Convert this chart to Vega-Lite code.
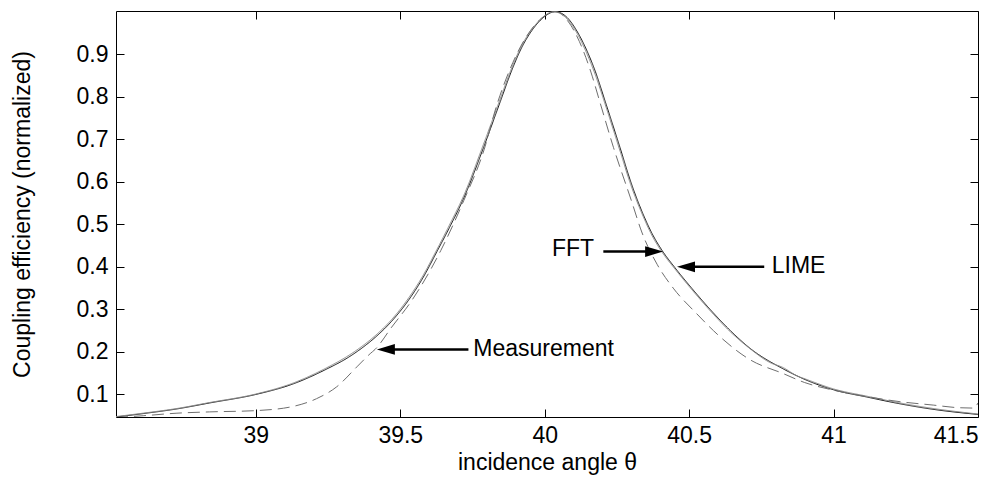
{
  "$schema": "https://vega.github.io/schema/vega-lite/v6.json",
  "width": 862,
  "height": 406,
  "autosize": {"type": "none"},
  "padding": {"left": 116, "top": 11, "right": 25, "bottom": 60},
  "background": "white",
  "config": {
    "view": {"stroke": "#000000", "strokeWidth": 1},
    "font": "Liberation Sans",
    "axis": {
      "domain": false,
      "grid": false,
      "tickSize": -8,
      "tickColor": "#000000",
      "tickWidth": 1,
      "labelFont": "Liberation Sans",
      "labelFontSize": 23,
      "labelColor": "#000000",
      "titleFont": "Liberation Sans",
      "titleFontSize": 23,
      "titleFontWeight": "normal",
      "titleColor": "#000000"
    }
  },
  "datasets": {
    "curves": [
      {"series": "LIME", "x": 38.516, "y": 0.047},
      {"series": "LIME", "x": 38.61, "y": 0.055},
      {"series": "LIME", "x": 38.727, "y": 0.066},
      {"series": "LIME", "x": 38.84, "y": 0.08},
      {"series": "LIME", "x": 39.0, "y": 0.1},
      {"series": "LIME", "x": 39.13, "y": 0.125},
      {"series": "LIME", "x": 39.246, "y": 0.16},
      {"series": "LIME", "x": 39.315, "y": 0.185},
      {"series": "LIME", "x": 39.373, "y": 0.212},
      {"series": "LIME", "x": 39.413, "y": 0.234},
      {"series": "LIME", "x": 39.47, "y": 0.272},
      {"series": "LIME", "x": 39.528, "y": 0.321},
      {"series": "LIME", "x": 39.58, "y": 0.376},
      {"series": "LIME", "x": 39.627, "y": 0.436},
      {"series": "LIME", "x": 39.67, "y": 0.492},
      {"series": "LIME", "x": 39.72, "y": 0.562},
      {"series": "LIME", "x": 39.788, "y": 0.68},
      {"series": "LIME", "x": 39.846, "y": 0.788},
      {"series": "LIME", "x": 39.886, "y": 0.862},
      {"series": "LIME", "x": 39.92, "y": 0.915},
      {"series": "LIME", "x": 39.955, "y": 0.955},
      {"series": "LIME", "x": 39.995, "y": 0.986},
      {"series": "LIME", "x": 40.036, "y": 1.0},
      {"series": "LIME", "x": 40.075, "y": 0.988},
      {"series": "LIME", "x": 40.117, "y": 0.948},
      {"series": "LIME", "x": 40.145, "y": 0.91},
      {"series": "LIME", "x": 40.175, "y": 0.86},
      {"series": "LIME", "x": 40.209, "y": 0.79},
      {"series": "LIME", "x": 40.261, "y": 0.68},
      {"series": "LIME", "x": 40.298, "y": 0.6},
      {"series": "LIME", "x": 40.34, "y": 0.525},
      {"series": "LIME", "x": 40.372, "y": 0.478},
      {"series": "LIME", "x": 40.405, "y": 0.44},
      {"series": "LIME", "x": 40.451, "y": 0.398},
      {"series": "LIME", "x": 40.51, "y": 0.349},
      {"series": "LIME", "x": 40.578, "y": 0.296},
      {"series": "LIME", "x": 40.64, "y": 0.252},
      {"series": "LIME", "x": 40.71, "y": 0.209},
      {"series": "LIME", "x": 40.826, "y": 0.16},
      {"series": "LIME", "x": 40.912, "y": 0.132},
      {"series": "LIME", "x": 41.0, "y": 0.111},
      {"series": "LIME", "x": 41.115, "y": 0.094},
      {"series": "LIME", "x": 41.23, "y": 0.078},
      {"series": "LIME", "x": 41.345, "y": 0.065},
      {"series": "LIME", "x": 41.5, "y": 0.053},
      {"series": "FFT", "x": 38.516, "y": 0.048},
      {"series": "FFT", "x": 38.61, "y": 0.056},
      {"series": "FFT", "x": 38.727, "y": 0.067},
      {"series": "FFT", "x": 38.84, "y": 0.081},
      {"series": "FFT", "x": 39.0, "y": 0.101},
      {"series": "FFT", "x": 39.13, "y": 0.127},
      {"series": "FFT", "x": 39.246, "y": 0.163},
      {"series": "FFT", "x": 39.315, "y": 0.189},
      {"series": "FFT", "x": 39.373, "y": 0.216},
      {"series": "FFT", "x": 39.413, "y": 0.238},
      {"series": "FFT", "x": 39.47, "y": 0.276},
      {"series": "FFT", "x": 39.528, "y": 0.326},
      {"series": "FFT", "x": 39.58, "y": 0.381},
      {"series": "FFT", "x": 39.627, "y": 0.441},
      {"series": "FFT", "x": 39.67, "y": 0.498},
      {"series": "FFT", "x": 39.72, "y": 0.568},
      {"series": "FFT", "x": 39.788, "y": 0.688},
      {"series": "FFT", "x": 39.846, "y": 0.795},
      {"series": "FFT", "x": 39.886, "y": 0.868},
      {"series": "FFT", "x": 39.92, "y": 0.92},
      {"series": "FFT", "x": 39.955, "y": 0.958},
      {"series": "FFT", "x": 39.995, "y": 0.988},
      {"series": "FFT", "x": 40.03, "y": 1.0},
      {"series": "FFT", "x": 40.07, "y": 0.988},
      {"series": "FFT", "x": 40.117, "y": 0.943},
      {"series": "FFT", "x": 40.145, "y": 0.903},
      {"series": "FFT", "x": 40.175, "y": 0.852},
      {"series": "FFT", "x": 40.209, "y": 0.783},
      {"series": "FFT", "x": 40.261, "y": 0.672},
      {"series": "FFT", "x": 40.298, "y": 0.593},
      {"series": "FFT", "x": 40.34, "y": 0.52},
      {"series": "FFT", "x": 40.372, "y": 0.473},
      {"series": "FFT", "x": 40.405, "y": 0.436},
      {"series": "FFT", "x": 40.451, "y": 0.395},
      {"series": "FFT", "x": 40.51, "y": 0.346},
      {"series": "FFT", "x": 40.578, "y": 0.293},
      {"series": "FFT", "x": 40.64, "y": 0.249},
      {"series": "FFT", "x": 40.71, "y": 0.208},
      {"series": "FFT", "x": 40.78, "y": 0.175},
      {"series": "FFT", "x": 40.826, "y": 0.163},
      {"series": "FFT", "x": 40.87, "y": 0.145},
      {"series": "FFT", "x": 40.912, "y": 0.134},
      {"series": "FFT", "x": 41.0, "y": 0.113},
      {"series": "FFT", "x": 41.115, "y": 0.096},
      {"series": "FFT", "x": 41.23, "y": 0.08},
      {"series": "FFT", "x": 41.345, "y": 0.067},
      {"series": "FFT", "x": 41.5, "y": 0.054},
      {"series": "Measurement", "x": 38.516, "y": 0.046},
      {"series": "Measurement", "x": 38.61, "y": 0.05},
      {"series": "Measurement", "x": 38.727, "y": 0.056},
      {"series": "Measurement", "x": 38.84, "y": 0.059},
      {"series": "Measurement", "x": 39.0, "y": 0.062},
      {"series": "Measurement", "x": 39.13, "y": 0.072},
      {"series": "Measurement", "x": 39.21, "y": 0.09},
      {"series": "Measurement", "x": 39.28, "y": 0.118},
      {"series": "Measurement", "x": 39.35, "y": 0.165},
      {"series": "Measurement", "x": 39.396, "y": 0.196},
      {"series": "Measurement", "x": 39.413, "y": 0.206},
      {"series": "Measurement", "x": 39.47, "y": 0.258},
      {"series": "Measurement", "x": 39.54, "y": 0.321},
      {"series": "Measurement", "x": 39.64, "y": 0.438},
      {"series": "Measurement", "x": 39.72, "y": 0.556},
      {"series": "Measurement", "x": 39.79, "y": 0.675},
      {"series": "Measurement", "x": 39.834, "y": 0.78},
      {"series": "Measurement", "x": 39.88, "y": 0.865},
      {"series": "Measurement", "x": 39.94, "y": 0.945},
      {"series": "Measurement", "x": 39.99, "y": 0.985},
      {"series": "Measurement", "x": 40.04, "y": 1.0},
      {"series": "Measurement", "x": 40.08, "y": 0.978},
      {"series": "Measurement", "x": 40.12, "y": 0.93},
      {"series": "Measurement", "x": 40.16, "y": 0.858},
      {"series": "Measurement", "x": 40.19, "y": 0.79},
      {"series": "Measurement", "x": 40.238, "y": 0.681},
      {"series": "Measurement", "x": 40.3, "y": 0.556},
      {"series": "Measurement", "x": 40.336, "y": 0.482},
      {"series": "Measurement", "x": 40.39, "y": 0.405},
      {"series": "Measurement", "x": 40.445, "y": 0.35},
      {"series": "Measurement", "x": 40.526, "y": 0.29},
      {"series": "Measurement", "x": 40.6, "y": 0.24},
      {"series": "Measurement", "x": 40.71, "y": 0.182},
      {"series": "Measurement", "x": 40.826, "y": 0.149},
      {"series": "Measurement", "x": 40.9, "y": 0.128},
      {"series": "Measurement", "x": 41.0, "y": 0.11},
      {"series": "Measurement", "x": 41.115, "y": 0.095},
      {"series": "Measurement", "x": 41.23, "y": 0.083},
      {"series": "Measurement", "x": 41.345, "y": 0.075},
      {"series": "Measurement", "x": 41.43, "y": 0.069},
      {"series": "Measurement", "x": 41.485, "y": 0.068},
      {"series": "Measurement", "x": 41.5, "y": 0.08}
    ],
    "notes": [
      {"label": "FFT", "tx": 40.025, "ty": 0.442, "x1": 40.203, "x2": 40.39, "tip": 40.41, "y": 0.436, "dir": "right"},
      {"label": "LIME", "tx": 40.786, "ty": 0.402, "x1": 40.76, "x2": 40.478, "tip": 40.458, "y": 0.4, "dir": "left"},
      {"label": "Measurement", "tx": 39.753, "ty": 0.208, "x1": 39.736, "x2": 39.439, "tip": 39.419, "y": 0.206, "dir": "left"}
    ]
  },
  "layer": [
    {
      "data": {"name": "curves"},
      "mark": {"type": "line", "strokeWidth": 1, "clip": true, "interpolate": "monotone"},
      "encoding": {
        "x": {
          "field": "x", "type": "quantitative",
          "scale": {"domain": [38.516, 41.5], "nice": false, "zero": false},
          "axis": {"orient": "bottom", "values": [39, 39.5, 40, 40.5, 41, 41.5], "format": "~g", "title": "incidence angle θ", "labelPadding": 15, "titlePadding": 4}
        },
        "y": {
          "field": "y", "type": "quantitative",
          "scale": {"domain": [0.047, 1.0016], "nice": false, "zero": false},
          "axis": {"orient": "left", "values": [0.1, 0.2, 0.3, 0.4, 0.5, 0.6, 0.7, 0.8, 0.9], "format": "~g", "title": "Coupling efficiency (normalized)", "labelPadding": 16, "titlePadding": 42}
        },
        "color": {"field": "series", "type": "nominal", "scale": {"domain": ["LIME", "FFT", "Measurement"], "range": ["#111111", "#8a8a8a", "#6e6e6e"]}, "legend": null},
        "strokeDash": {"field": "series", "type": "nominal", "scale": {"domain": ["LIME", "FFT", "Measurement"], "range": [[1, 0], [1, 0], [12, 6]]}, "legend": null},
        "order": {"field": "x", "type": "quantitative"}
      }
    },
    {
      "data": {"name": "notes"},
      "mark": {"type": "rule", "strokeWidth": 2.5, "color": "#000000"},
      "encoding": {
        "x": {"field": "x1", "type": "quantitative", "scale": {"domain": [38.516, 41.5], "nice": false, "zero": false},
          "axis": {"orient": "top", "values": [39, 39.5, 40, 40.5, 41, 41.5], "labels": false, "title": null}},
        "x2": {"field": "x2"},
        "y": {"field": "y", "type": "quantitative", "scale": {"domain": [0.047, 1.0016], "nice": false, "zero": false},
          "axis": {"orient": "right", "values": [0.1, 0.2, 0.3, 0.4, 0.5, 0.6, 0.7, 0.8, 0.9], "labels": false, "title": null}}
      }
    },
    {
      "data": {"name": "notes"},
      "mark": {"type": "point", "filled": true, "opacity": 1, "color": "#000000", "size": 324, "strokeWidth": 0},
      "encoding": {
        "x": {"field": "tip", "type": "quantitative", "scale": {"domain": [38.516, 41.5], "nice": false, "zero": false}, "axis": null},
        "y": {"field": "y", "type": "quantitative", "scale": {"domain": [0.047, 1.0016], "nice": false, "zero": false}, "axis": null},
        "shape": {"field": "dir", "type": "nominal", "scale": {"domain": ["right", "left"], "range": ["M0,0L-2,-0.6L-2,0.6Z", "M0,0L2,-0.6L2,0.6Z"]}, "legend": null}
      }
    },
    {
      "data": {"name": "notes"},
      "mark": {"type": "text", "align": "left", "baseline": "middle", "font": "Liberation Sans", "fontSize": 23, "color": "#000000"},
      "encoding": {
        "x": {"field": "tx", "type": "quantitative", "scale": {"domain": [38.516, 41.5], "nice": false, "zero": false}, "axis": null},
        "y": {"field": "ty", "type": "quantitative", "scale": {"domain": [0.047, 1.0016], "nice": false, "zero": false}, "axis": null},
        "text": {"field": "label"}
      }
    }
  ],
  "resolve": {"axis": {"x": "independent", "y": "independent"}}
}
